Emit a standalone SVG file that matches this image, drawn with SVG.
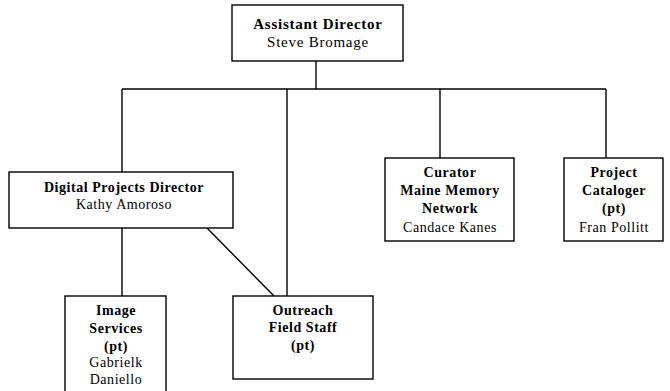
<svg xmlns="http://www.w3.org/2000/svg" width="670" height="391" viewBox="0 0 670 391">
<style>
.box{fill:#fff;stroke:#000;stroke-width:1.4}
.ln{stroke:#000;stroke-width:1.4;fill:none}
text{font-family:"Liberation Serif","Times New Roman",serif;font-size:14px;text-anchor:middle;fill:#000;letter-spacing:0.55px}
.b{font-weight:bold}
.top{font-size:15px;letter-spacing:0.75px}
</style>
<rect width="670" height="391" fill="#fff"/>
<g id="connectors">
<line class="ln" x1="316" y1="61" x2="316" y2="89"/>
<line class="ln" x1="122" y1="89" x2="606" y2="89"/>
<line class="ln" x1="122" y1="89" x2="122" y2="172"/>
<line class="ln" x1="287" y1="89" x2="287" y2="296"/>
<line class="ln" x1="440" y1="89" x2="440" y2="158"/>
<line class="ln" x1="606" y1="89" x2="606" y2="158"/>
<line class="ln" x1="122" y1="228" x2="122" y2="296"/>
<line class="ln" x1="207" y1="228" x2="274" y2="296"/>
</g>
<g id="assistant-director">
<rect class="box" x="232" y="5" width="171" height="56"/>
<text class="b top" x="318" y="29">Assistant Director</text>
<text class="top" x="318" y="47">Steve Bromage</text>
</g>
<g id="digital-projects-director">
<rect class="box" x="9" y="172" width="224" height="56"/>
<text class="b" x="124" y="192">Digital Projects Director</text>
<text x="124" y="209">Kathy Amoroso</text>
</g>
<g id="curator">
<rect class="box" x="385" y="158" width="129" height="83"/>
<text class="b" x="450" y="177">Curator</text>
<text class="b" x="450" y="195">Maine Memory</text>
<text class="b" x="450" y="213">Network</text>
<text x="450" y="232">Candace Kanes</text>
</g>
<g id="project-cataloger">
<rect class="box" x="564" y="158" width="99" height="83"/>
<text class="b" x="614" y="177">Project</text>
<text class="b" x="614" y="195">Cataloger</text>
<text class="b" x="614" y="213">(pt)</text>
<text x="614" y="232">Fran Pollitt</text>
</g>
<g id="image-services">
<rect class="box" x="65" y="296" width="101" height="110"/>
<text class="b" x="116" y="315">Image</text>
<text class="b" x="116" y="333">Services</text>
<text class="b" x="116" y="351">(pt)</text>
<text x="116" y="367">Gabrielk</text>
<text x="116" y="384">Daniello</text>
</g>
<g id="outreach-field-staff">
<rect class="box" x="233" y="296" width="140" height="83"/>
<text class="b" x="303" y="315">Outreach</text>
<text class="b" x="303" y="332">Field Staff</text>
<text class="b" x="303" y="350">(pt)</text>
</g>
</svg>
